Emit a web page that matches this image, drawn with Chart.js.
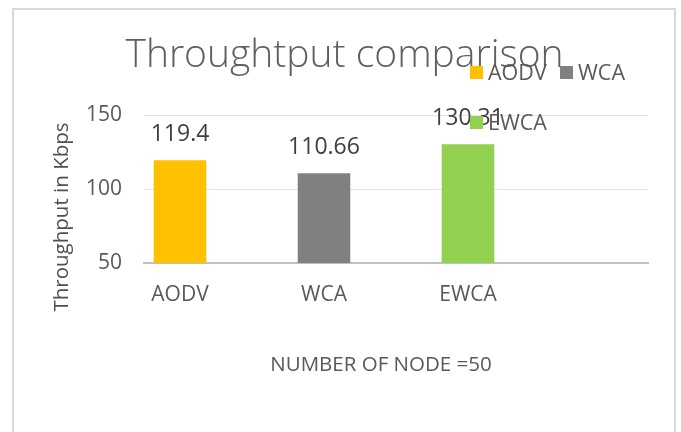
<!DOCTYPE html>
<html>
<head>
<meta charset="utf-8">
<script src="https://cdn.jsdelivr.net/npm/chart.js@4/dist/chart.umd.min.js"></script>
<style>
  html, body { margin: 0; padding: 0; background: #ffffff; width: 681px; height: 432px; overflow: hidden; }
  #wrap { position: absolute; left: 0; top: 0; width: 681px; height: 432px; }
  #frame { position: absolute; left: 12px; top: 8px; width: 664px; height: 440px; box-sizing: border-box;
           border: 2px solid #d9d9d9; pointer-events: none; }
</style>
</head>
<body>
<div id="wrap"><canvas id="c" width="681" height="432"></canvas></div>
<div id="frame"></div>
<script>
// ---- data ----
const categories = ['AODV', 'WCA', 'EWCA'];
const throughput = [119.4, 110.66, 130.31];
const yTickValues = [50, 100, 150];
const chartTitle = 'Throughtput comparison';
const yAxisTitle = 'Throughput in Kbps';
const xAxisTitle = 'NUMBER OF NODE =50';

// ---- styles ----
const seriesColors = ['#FFC000', '#808080', '#92D050'];
const FONT = "'Open Sans', 'Liberation Sans', sans-serif";
const TEXT_GREY = '#595959';
const legendSlots = [[470, 66], [560, 66], [470, 116]]; // legend item box positions

Chart.defaults.font.family = FONT;

const datasets = categories.map((name, i) => ({
  label: name,
  data: [{ x: i, y: throughput[i] }],
  backgroundColor: seriesColors[i],
  borderWidth: 0
}));

const extras = {
  id: 'extras',
  afterDatasetsDraw(chart) {
    const ctx = chart.ctx;
    ctx.save();
    // value labels above bars
    ctx.font = '23px ' + FONT;
    ctx.fillStyle = '#404040';
    ctx.textAlign = 'center';
    ctx.textBaseline = 'alphabetic';
    chart.data.datasets.forEach((ds, i) => {
      const meta = chart.getDatasetMeta(i);
      meta.data.forEach((bar, j) => {
        ctx.fillText(String(ds.data[j].y), bar.x, bar.y - 19.5);
      });
    });
    // axis titles
    ctx.fillStyle = TEXT_GREY;
    ctx.font = '20.5px ' + FONT;
    ctx.fillText(xAxisTitle, 381, 370.5);
    ctx.save();
    ctx.translate(68, 217);
    ctx.rotate(-Math.PI / 2);
    ctx.font = '20.5px ' + FONT;
    ctx.fillStyle = '#505050';
    ctx.fillText(yAxisTitle, 0, 0);
    ctx.restore();
    // legend
    const items = Chart.defaults.plugins.legend.labels.generateLabels(chart);
    ctx.font = '21.5px ' + FONT;
    ctx.textAlign = 'left';
    items.forEach((it, i) => {
      const [bx, by] = legendSlots[i];
      ctx.fillStyle = it.fillStyle;
      ctx.fillRect(bx, by, 13, 13);
      ctx.fillStyle = TEXT_GREY;
      ctx.fillText(it.text, bx + 18, by + 14);
    });
    ctx.restore();
  }
};

new Chart(document.getElementById('c'), {
  type: 'bar',
  data: { datasets },
  plugins: [extras],
  options: {
    responsive: false,
    animation: false,
    layout: { padding: { left: 41, right: 33, top: 0, bottom: 109 } },
    datasets: { bar: { grouped: false, categoryPercentage: 1, barPercentage: 0.365 } },
    plugins: {
      legend: { display: false },
      tooltip: { enabled: false },
      title: {
        display: true,
        text: chartTitle,
        color: '#5f5f5f',
        font: { family: FONT, size: 39, weight: '300' },
        padding: { top: 32.6, bottom: 35.6 }
      }
    },
    scales: {
      x: {
        type: 'linear',
        offset: false,
        min: -0.25,
        max: categories.length + 0.25,
        afterFit(s) { s.height = 60; },
        grid: { display: false, drawTicks: false, offset: false },
        border: { display: true, color: '#c0c0c0', width: 2 },
        ticks: {
          stepSize: 1,
          includeBounds: false,
          autoSkip: false,
          maxRotation: 0,
          padding: 19,
          color: TEXT_GREY,
          font: { size: 21 },
          callback: (v) => (Number.isInteger(v) && categories[v] !== undefined ? categories[v] : '')
        }
      },
      y: {
        min: yTickValues[0],
        max: yTickValues[yTickValues.length - 1],
        afterFit(s) { s.width = 103; },
        grid: {
          drawTicks: false,
          lineWidth: 1,
          color: (c) => (c.tick && c.tick.value === yTickValues[0] ? 'rgba(0,0,0,0)' : '#e4e4e4')
        },
        border: { display: false },
        ticks: {
          stepSize: yTickValues[1] - yTickValues[0],
          padding: 22,
          color: TEXT_GREY,
          font: { size: 21 }
        }
      }
    }
  }
});
</script>
</body>
</html>
